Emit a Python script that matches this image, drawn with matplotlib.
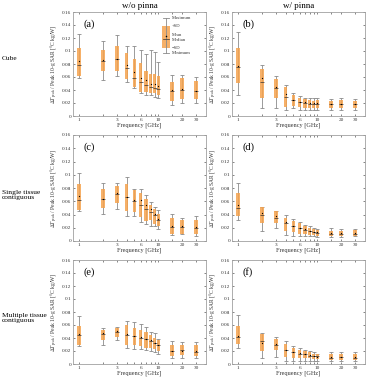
import matplotlib
matplotlib.use("Agg")
import matplotlib.pyplot as plt
import numpy as np

plt.rcParams['font.family'] = ['Liberation Serif', 'DejaVu Serif']
plt.rcParams['mathtext.fontset'] = 'stix'

freqs = [1, 2, 3, 4, 5, 6, 7, 8, 9, 10, 15, 20, 30]
xtick_labels = ['1', '', '3', '', '', '6', '', '', '', '10', '', '20', '30']
row_names = ['Cube', 'Single tissue\ncontiguous', 'Multiple tissue\ncontiguous']
col_names = ['w/o pinna', 'w/ pinna']
panel_tags = ['(a)', '(b)', '(c)', '(d)', '(e)', '(f)']

# (a) cube, w/o pinna
a_max = [0.126, 0.116, 0.125, 0.108, 0.108, 0.101, 0.096, 0.101, 0.099, 0.083, 0.063, 0.063, 0.060]
a_top = [0.104, 0.102, 0.107, 0.097, 0.087, 0.082, 0.070, 0.065, 0.064, 0.061, 0.053, 0.058, 0.054]
a_mean = [0.084, 0.086, 0.088, 0.078, 0.067, 0.058, 0.055, 0.050, 0.050, 0.046, 0.040, 0.041, 0.039]
a_med = [0.079, 0.084, 0.088, 0.074, 0.059, 0.053, 0.048, 0.044, 0.043, 0.042, 0.039, 0.040, 0.038]
a_bot = [0.062, 0.070, 0.070, 0.057, 0.045, 0.037, 0.037, 0.036, 0.035, 0.032, 0.0235, 0.026, 0.0257]
a_min = [0.058, 0.055, 0.061, 0.053, 0.043, 0.035, 0.033, 0.032, 0.030, 0.027, 0.017, 0.0195, 0.0195]

# (b) cube, w/ pinna
b_max = [0.129, 0.079, 0.061, 0.048, 0.036, 0.031, 0.028, 0.027, 0.027, 0.027, 0.026, 0.028, 0.026]
b_top = [0.104, 0.073, 0.057, 0.044, 0.032, 0.028, 0.026, 0.024, 0.023, 0.024, 0.023, 0.024, 0.023]
b_mean = [0.077, 0.059, 0.044, 0.034, 0.025, 0.022, 0.021, 0.020, 0.020, 0.020, 0.018, 0.019, 0.018]
b_med = [0.076, 0.052, 0.043, 0.029, 0.024, 0.021, 0.020, 0.019, 0.019, 0.019, 0.018, 0.018, 0.018]
b_bot = [0.051, 0.028, 0.028, 0.014, 0.015, 0.014, 0.013, 0.012, 0.012, 0.012, 0.013, 0.013, 0.012]
b_min = [0.033, 0.013, 0.013, 0.010, 0.012, 0.010, 0.010, 0.009, 0.009, 0.009, 0.010, 0.009, 0.009]

# (c) single tissue, w/o pinna
c_max = [0.102, 0.088, 0.088, 0.097, 0.079, 0.079, 0.070, 0.059, 0.052, 0.047, 0.041, 0.035, 0.038]
c_top = [0.086, 0.078, 0.083, 0.086, 0.077, 0.073, 0.064, 0.055, 0.049, 0.041, 0.034, 0.032, 0.031]
c_mean = [0.068, 0.063, 0.073, 0.067, 0.062, 0.062, 0.054, 0.049, 0.041, 0.033, 0.022, 0.022, 0.021]
c_med = [0.062, 0.063, 0.071, 0.066, 0.061, 0.055, 0.049, 0.044, 0.039, 0.031, 0.021, 0.021, 0.019]
c_bot = [0.047, 0.050, 0.057, 0.045, 0.044, 0.036, 0.030, 0.031, 0.026, 0.022, 0.010, 0.011, 0.010]
c_min = [0.046, 0.041, 0.049, 0.038, 0.038, 0.028, 0.025, 0.022, 0.022, 0.018, 0.009, 0.010, 0.008]

# (d) single tissue, w/ pinna
d_max = [0.087, 0.052, 0.046, 0.039, 0.033, 0.029, 0.024, 0.022, 0.020, 0.018, 0.019, 0.018, 0.018]
d_top = [0.072, 0.052, 0.046, 0.035, 0.030, 0.027, 0.023, 0.020, 0.018, 0.016, 0.015, 0.015, 0.016]
d_mean = [0.054, 0.043, 0.037, 0.029, 0.023, 0.020, 0.018, 0.015, 0.014, 0.013, 0.012, 0.012, 0.012]
d_med = [0.050, 0.040, 0.035, 0.027, 0.022, 0.019, 0.017, 0.015, 0.014, 0.012, 0.011, 0.011, 0.011]
d_bot = [0.038, 0.027, 0.027, 0.015, 0.013, 0.010, 0.010, 0.009, 0.009, 0.008, 0.008, 0.008, 0.008]
d_min = [0.032, 0.015, 0.020, 0.009, 0.008, 0.008, 0.008, 0.007, 0.007, 0.006, 0.006, 0.006, 0.007]

# (e) multiple tissue, w/o pinna
e_max = [0.074, 0.055, 0.057, 0.066, 0.064, 0.061, 0.057, 0.050, 0.048, 0.039, 0.035, 0.034, 0.034]
e_top = [0.059, 0.052, 0.055, 0.060, 0.056, 0.052, 0.050, 0.045, 0.040, 0.037, 0.030, 0.030, 0.030]
e_mean = [0.046, 0.048, 0.051, 0.046, 0.043, 0.042, 0.039, 0.037, 0.033, 0.029, 0.020, 0.020, 0.020]
e_med = [0.045, 0.046, 0.050, 0.045, 0.043, 0.040, 0.038, 0.035, 0.032, 0.030, 0.020, 0.021, 0.019]
e_bot = [0.030, 0.037, 0.042, 0.030, 0.029, 0.027, 0.025, 0.024, 0.023, 0.020, 0.012, 0.014, 0.012]
e_min = [0.027, 0.030, 0.037, 0.025, 0.023, 0.023, 0.022, 0.020, 0.018, 0.016, 0.009, 0.010, 0.010]

# (f) multiple tissue, w/ pinna
f_max = [0.075, 0.048, 0.042, 0.036, 0.027, 0.025, 0.021, 0.020, 0.018, 0.016, 0.018, 0.018, 0.018]
f_top = [0.058, 0.046, 0.038, 0.031, 0.024, 0.022, 0.020, 0.018, 0.016, 0.015, 0.015, 0.015, 0.015]
f_mean = [0.043, 0.033, 0.031, 0.022, 0.019, 0.017, 0.015, 0.014, 0.013, 0.011, 0.011, 0.011, 0.011]
f_med = [0.041, 0.035, 0.029, 0.022, 0.018, 0.016, 0.015, 0.013, 0.013, 0.012, 0.010, 0.011, 0.010]
f_bot = [0.031, 0.020, 0.021, 0.011, 0.010, 0.009, 0.009, 0.009, 0.008, 0.007, 0.006, 0.006, 0.006]
f_min = [0.024, 0.009, 0.011, 0.005, 0.005, 0.005, 0.005, 0.005, 0.005, 0.005, 0.005, 0.005, 0.005]

panels = [
    (a_max, a_top, a_mean, a_med, a_bot, a_min),
    (b_max, b_top, b_mean, b_med, b_bot, b_min),
    (c_max, c_top, c_mean, c_med, c_bot, c_min),
    (d_max, d_top, d_mean, d_med, d_bot, d_min),
    (e_max, e_top, e_mean, e_med, e_bot, e_min),
    (f_max, f_top, f_mean, f_med, f_bot, f_min),
]

box_col = '#F5A24E'
wh_col = '#8a8a8a'
frame_col = '#a0a0a0'

fig = plt.figure(figsize=(3.67, 3.79), dpi=100)
W, H = 367.0, 379.0
col_px = [(73, 206), (232, 365)]
row_px = [(12, 116), (135, 241), (260, 364)]
row_lab_y = [59, 195, 318]

f = np.array(freqs, dtype=float)
h = 0.022  # half box width in decades
for i, (mx, top, mean, med, bot, mn) in enumerate(panels):
    r, c = divmod(i, 2)
    x0, x1 = col_px[c]
    y0, y1 = row_px[r]
    ax = fig.add_axes([x0 / W, 1 - y1 / H, (x1 - x0) / W, (y1 - y0) / H])
    ax.set_xscale('log')
    top = np.array(top); bot = np.array(bot)
    # whiskers
    ax.vlines(f, mn, mx, color=wh_col, lw=0.6, zorder=1)
    ax.plot(f, mx, ls='none', marker='_', ms=2.5, mew=0.6, color=wh_col, zorder=1)
    ax.plot(f, mn, ls='none', marker='_', ms=2.5, mew=0.6, color=wh_col, zorder=1)
    # SD boxes
    ax.bar(f * 10 ** (-h), top - bot, width=f * (10 ** h - 10 ** (-h)), bottom=bot,
           align='edge', color=box_col, alpha=0.85, lw=0, zorder=2)
    ax.plot(f, med, ls='none', marker='_', ms=2.8, mew=0.5, color='#333333', zorder=3)
    ax.plot(f, mean, ls='none', marker='o', ms=0.9, mew=0, color='black', zorder=4)

    ax.set_xlim(0.84, 40)
    ax.set_ylim(0, 0.16)
    ax.set_xticks(freqs)
    ax.set_xticklabels(xtick_labels)
    ax.xaxis.set_minor_locator(matplotlib.ticker.NullLocator())
    ax.set_yticks(np.arange(0, 0.161, 0.02))
    ax.set_yticklabels(['0', '0.02', '0.04', '0.06', '0.08', '0.1', '0.12', '0.14', '0.16'])
    ax.tick_params(direction='in', top=True, right=True, length=1.5, width=0.5,
                   labelsize=3.8, pad=1.5, colors='#555555', labelcolor='#333333')
    for s in ax.spines.values():
        s.set_color(frame_col)
        s.set_linewidth(0.6)
    ax.set_xlabel('Frequency [GHz]', fontsize=4.5, labelpad=0.5, color='#333333')
    ax.set_ylabel(r'$\Delta T_{\rm peak}$ / Peak 10-g SAR [°C kg/W]', fontsize=4.0,
                  labelpad=1.5, color='#333333')
    ax.text(0.08, 0.93, panel_tags[i], transform=ax.transAxes, fontsize=7.5,
            va='top', ha='left')
    if r == 0:
        ax.set_title(col_names[c], fontsize=6.5, pad=3)
    if c == 0:
        fig.text(2 / W, 1 - row_lab_y[r] / H, row_names[r], fontsize=5.4,
                 ha='left', va='center', linespacing=1.1)

    if i == 0:
        # schematic legend for the box symbols
        lx, bw = 0.70, 0.03
        ax.plot([lx, lx], [0.61, 0.94], transform=ax.transAxes, color=wh_col, lw=0.6)
        ax.plot([lx - 0.02, lx + 0.02], [0.94, 0.94], transform=ax.transAxes, color=wh_col, lw=0.6)
        ax.plot([lx - 0.02, lx + 0.02], [0.61, 0.61], transform=ax.transAxes, color=wh_col, lw=0.6)
        ax.add_patch(plt.Rectangle((lx - bw, 0.657), 2 * bw, 0.21, transform=ax.transAxes,
                                   color=box_col, alpha=0.85, lw=0))
        ax.plot([lx - 0.025, lx + 0.025], [0.74, 0.74], transform=ax.transAxes, color='#333333', lw=0.5)
        ax.plot([lx], [0.765], transform=ax.transAxes, marker='o', ms=1.1, mew=0, color='black')
        lab = [('Maximum', 0.94), ('+SD', 0.868), ('Mean', 0.775), ('Median', 0.735),
               ('\u2212SD', 0.657), ('Minimum', 0.61)]
        for t, yy in lab:
            ax.text(lx + 0.045, yy, t, transform=ax.transAxes, fontsize=3.3,
                    va='center', ha='left', color='#333333')

fig.savefig('out.png', dpi=100)
